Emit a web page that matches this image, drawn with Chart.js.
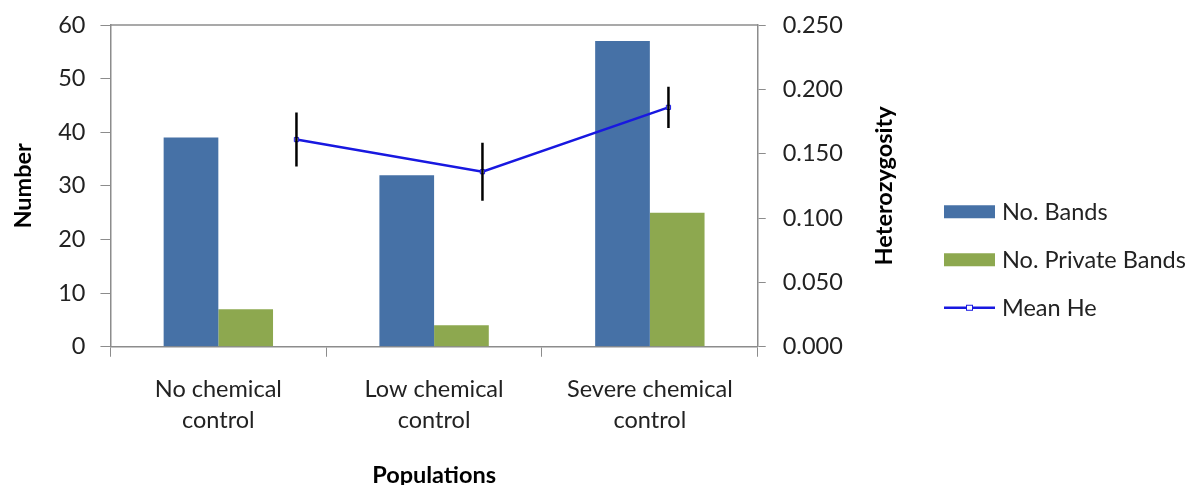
<!DOCTYPE html>
<html>
<head>
<meta charset="utf-8">
<script src="https://cdn.jsdelivr.net/npm/chart.js@4"></script>
<style>
  html, body { margin: 0; padding: 0; background: #fff; }
  #wrap { width: 1195px; height: 485px; }
</style>
</head>
<body>
<div id="wrap"><canvas id="chart"></canvas></div>
<script>
const categories = [['No chemical', 'control'], ['Low chemical', 'control'], ['Severe chemical', 'control']];
const noBands = [39, 32, 57];
const noPrivateBands = [7, 4, 25];
const meanHe = [0.161, 0.136, 0.186];
const meanHeErr = [0.021, 0.0225, 0.016];
const heIndex = [1, 2, 3];
const numberTicks = [0, 10, 20, 30, 40, 50, 60];
const heTicks = [0, 0.05, 0.1, 0.15, 0.2, 0.25];

const FONT = 'Lato';
const FS = 23.5;
const AXIS = '#8c8c8c';
const TEXT = '#222';
const LINE_BLUE = '#1818E0';

// Chart.js 4.5 shares each bar group out between every x axis a dataset uses
// (x2, x3, then x here), so the bars land in the middle of 3 x 2 slots
const [vMaj, vMin] = Chart.version.split('.').map(Number);
const axisShare = (vMaj > 4 || (vMaj === 4 && vMin >= 5)) ? 3 : 1;
const groupPct = 0.507 * axisShare;

const heErrPx = ctx => {
    const s = ctx.chart.scales.y1;
    return Math.abs(s.getPixelForValue(meanHeErr[ctx.dataIndex]) - s.getPixelForValue(0));
};

// top edge of the plot frame, and the right-hand title reading bottom-to-top
const frameAndTitle = {
    id: 'frameAndTitle',
    afterDraw(chart) {
        const ctx = chart.ctx;
        const area = chart.chartArea;
        ctx.save();
        ctx.strokeStyle = AXIS;
        ctx.lineWidth = 1.5;
        ctx.beginPath();
        ctx.moveTo(area.left, area.top);
        ctx.lineTo(area.right, area.top);
        ctx.stroke();

        const s = chart.scales.y1;
        const t = s.options.title;
        ctx.translate(s.right - (FS * 1.2 / 2 + t.padding.top), (s.top + s.bottom) / 2);
        ctx.rotate(-Math.PI / 2);
        ctx.font = `bold ${FS}px ${FONT}`;
        ctx.fillStyle = '#000';
        ctx.textAlign = 'center';
        ctx.textBaseline = 'middle';
        ctx.fillText(t.text, 0, 0);
        ctx.restore();
    }
};

// legend sits in the right padding, to the right of the secondary axis
const sideLegend = {
    id: 'sideLegend',
    afterDraw(chart) {
        const ctx = chart.ctx;
        const x0 = chart.scales.y1.right + 45;
        const rowGap = 48;
        const y0 = chart.chartArea.bottom - 135;
        const shown = chart.data.datasets.filter(ds => ds.legendRow !== undefined)
            .sort((a, b) => a.legendRow - b.legendRow);
        ctx.save();
        ctx.font = `${FS}px ${FONT}`;
        ctx.textBaseline = 'middle';
        shown.forEach((ds, i) => {
            const y = y0 + i * rowGap;
            if (ds.type === 'line') {
                ctx.strokeStyle = ds.borderColor;
                ctx.lineWidth = 2.5;
                ctx.beginPath();
                ctx.moveTo(x0, y);
                ctx.lineTo(x0 + 51, y);
                ctx.stroke();
                ctx.lineWidth = 1;
                ctx.fillStyle = '#fff';
                ctx.fillRect(x0 + 22.5, y - 2.5, 6, 5);
                ctx.strokeRect(x0 + 22.5, y - 2.5, 6, 5);
            } else {
                ctx.fillStyle = ds.backgroundColor;
                ctx.fillRect(x0, y - 6.5, 51, 13);
            }
            ctx.fillStyle = TEXT;
            ctx.fillText(ds.label, x0 + 58, y + 1);
        });
        ctx.restore();
    }
};

const noTopOverflow = axis => { axis.paddingTop = 0; };

new Chart(document.getElementById('chart'), {
    data: {
        labels: categories,
        datasets: [
            {
                type: 'line',
                label: 'Mean He',
                legendRow: 2,
                data: meanHe.map((v, i) => ({ x: heIndex[i], y: v })),
                borderColor: LINE_BLUE,
                borderWidth: 2.5,
                pointStyle: 'rect',
                pointRadius: 3,
                pointBackgroundColor: '#fff',
                pointBorderColor: LINE_BLUE,
                pointBorderWidth: 1,
                xAxisID: 'x2',
                yAxisID: 'y1',
                order: 1
            },
            {
                type: 'line',
                label: 'Mean He error',
                data: meanHe.map((v, i) => ({ x: heIndex[i], y: v })),
                showLine: false,
                pointStyle: 'line',
                rotation: 90,
                pointRadius: heErrPx,
                pointHoverRadius: heErrPx,
                pointBorderColor: '#000',
                pointBorderWidth: 2.5,
                borderColor: '#000',
                xAxisID: 'x3',
                yAxisID: 'y1',
                order: 0
            },
            {
                type: 'bar',
                label: 'No. Bands',
                legendRow: 0,
                data: noBands,
                backgroundColor: '#4671A6',
                categoryPercentage: groupPct,
                barPercentage: 1,
                xAxisID: 'x',
                yAxisID: 'y',
                order: 3
            },
            {
                type: 'bar',
                label: 'No. Private Bands',
                legendRow: 1,
                data: noPrivateBands,
                backgroundColor: '#8DA84F',
                categoryPercentage: groupPct,
                barPercentage: 1,
                xAxisID: 'x',
                yAxisID: 'y',
                order: 3
            }
        ]
    },
    options: {
        responsive: true,
        maintainAspectRatio: false,
        animation: false,
        layout: { padding: { left: 9, right: 296, top: 25, bottom: 0 } },
        plugins: {
            tooltip: { enabled: false },
            legend: { display: false }
        },
        scales: {
            x: {
                type: 'category',
                offset: true,
                grid: { offset: true, drawOnChartArea: false, drawTicks: true, tickLength: 10, color: AXIS },
                border: { color: AXIS, width: 1.5 },
                ticks: { font: { family: FONT, size: FS, lineHeight: 1.32 }, color: TEXT, maxRotation: 0, padding: 17 },
                title: { display: true, text: 'Populations', font: { family: FONT, size: FS, weight: 'bold' }, color: '#000', padding: { top: 9, bottom: -5 } }
            },
            x2: {
                type: 'linear',
                display: false,
                min: 0,
                max: 3.48
            },
            x3: {
                type: 'linear',
                display: false,
                min: 0,
                max: 3.48
            },
            y: {
                position: 'left',
                min: 0,
                max: 60,
                afterBuildTicks: axis => { axis.ticks = numberTicks.map(v => ({ value: v })); },
                afterFit: noTopOverflow,
                grid: { drawOnChartArea: false, drawTicks: true, tickLength: 10, color: AXIS },
                border: { color: AXIS, width: 1.5 },
                ticks: { font: { family: FONT, size: FS }, color: TEXT, padding: 15 },
                title: { display: true, text: 'Number', font: { family: FONT, size: FS, weight: 'bold' }, color: '#000', padding: { top: 0, bottom: 6 } }
            },
            y1: {
                position: 'right',
                min: 0,
                max: 0.25,
                afterBuildTicks: axis => { axis.ticks = heTicks.map(v => ({ value: v })); },
                afterFit: noTopOverflow,
                grid: { drawOnChartArea: false, drawTicks: true, tickLength: 8, color: AXIS },
                border: { color: AXIS, width: 1.5 },
                ticks: { font: { family: FONT, size: FS }, color: TEXT, padding: 17, callback: v => v.toFixed(3) },
                title: { display: true, text: 'Heterozygosity', font: { family: FONT, size: FS, weight: 'bold' }, color: 'rgba(0,0,0,0)', padding: { top: 0, bottom: 11 } }
            }
        }
    },
    plugins: [frameAndTitle, sideLegend]
});
</script>
</body>
</html>
